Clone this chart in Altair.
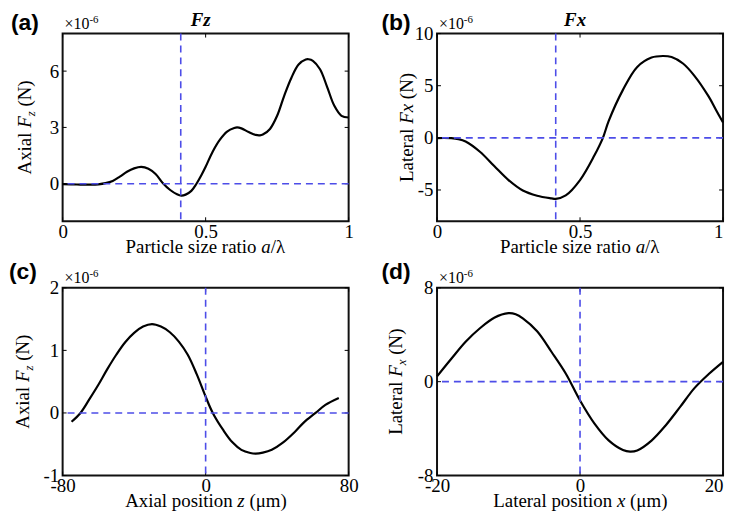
import altair as alt
import pandas as pd

# ---------------- data ----------------
a_x = [0, 0.05, 0.1, 0.125, 0.15, 0.175, 0.2, 0.225, 0.25, 0.275,
       0.3, 0.325, 0.35, 0.375, 0.4, 0.415, 0.43, 0.45, 0.468, 0.485,
       0.5, 0.525, 0.55, 0.575, 0.6, 0.61, 0.625, 0.65, 0.675, 0.69,
       0.7, 0.725, 0.75, 0.775, 0.8, 0.825, 0.85, 0.86, 0.875, 0.9,
       0.925, 0.95, 0.975, 1.0]
a_y = [-0.02, -0.04, -0.05, -0.03, 0.03, 0.15, 0.38, 0.64, 0.82, 0.90,
       0.80, 0.52, 0.04, -0.32, -0.56, -0.63, -0.58, -0.38, 0.0, 0.45,
       0.9, 1.72, 2.35, 2.78, 2.97, 3.0, 2.95, 2.76, 2.6, 2.58,
       2.62, 2.92, 3.62, 4.7, 5.65, 6.35, 6.62, 6.63, 6.55, 6.1,
       5.15, 4.15, 3.62, 3.53]

b_x = [0, 0.05, 0.075, 0.1, 0.15, 0.2, 0.25, 0.3, 0.35, 0.4,
       0.415, 0.45, 0.5, 0.55, 0.58, 0.6, 0.65, 0.7, 0.75, 0.79,
       0.82, 0.86, 0.9, 0.95, 0.975, 1.0]
b_y = [-0.02, -0.03, -0.12, -0.35, -1.33, -2.7, -4.05, -5.05, -5.55, -5.8,
       -5.85, -5.52, -4.05, -1.7, 0.0, 1.6, 4.6, 6.8, 7.7, 7.85,
       7.75, 7.13, 5.95, 3.95, 2.7, 1.47]

c_x = [-75, -70, -65, -60, -55, -50, -45, -40, -35, -30,
       -25, -20, -15, -10, -5, 0, 4, 10, 15, 20,
       25, 28, 32, 37, 43, 50, 55, 61.5, 67, 74.5]
c_y = [-0.14, 0.0, 0.22, 0.45, 0.70, 0.93, 1.13, 1.28, 1.38, 1.42,
       1.38, 1.29, 1.14, 0.93, 0.62, 0.26, 0.0, -0.28, -0.47, -0.59,
       -0.64, -0.65, -0.635, -0.59, -0.48, -0.3, -0.15, 0.0, 0.13, 0.24]

d_x = [-20, -18, -16, -14, -12, -10, -9, -8, -6, -4,
       -2, 0, 2, 4, 6, 7, 8, 10, 12, 14,
       16, 18, 20]
d_y = [0.45, 1.95, 3.4, 4.55, 5.45, 5.84, 5.75, 5.4, 4.3, 2.55,
       0.7, -1.6, -3.55, -5.0, -5.82, -5.96, -5.86, -5.02, -3.71, -2.15,
       -0.55, 0.65, 1.69]

a_xticks = [0, 0.5, 1]
a_yticks = [0, 3, 6]
b_xticks = [0, 0.5, 1]
b_yticks = [-5, 0, 5, 10]
c_xticks = [-80, 0, 80]
c_yticks = [-1, 0, 1, 2]
d_xticks = [-20, 0, 20]
d_yticks = [-8, 0, 8]

a_vline = 0.413
b_vline = 0.415
c_vline = 0
d_vline = 0

# ---------------- styling ----------------
SERIF = "Liberation Serif"
SANS = "Liberation Sans"
FS = 19
SUB = 13
W, H = 288, 189
BLUE = "#4d4de8"

ROMAN = {' ': 250, '(': 333, ')': 333, '/': 278, '.': 250,
         'A': 722, 'L': 611, 'N': 722, 'P': 556,
         'a': 444, 'c': 444, 'e': 444, 'i': 278, 'l': 278, 'n': 500,
         'o': 500, 'p': 500, 'r': 333, 's': 389, 't': 278, 'x': 500,
         'z': 444, 'm': 778, 'μ': 500, 'λ': 520, '×': 564, '0': 500, '1': 500}
ITAL = {'F': 611, 'a': 500, 'x': 444, 'z': 389}


def width(s, italic, size):
    tbl = ITAL if italic else ROMAN
    return sum(tbl.get(ch, 500) for ch in s) / 1000.0 * size


one = pd.DataFrame({"k": [0]})


def txt(s, x, y, size, italic=False, bold=False, font=SERIF, angle=0,
        align="left", dx=0, dy=0):
    kw = dict(text=s, font=font, fontSize=size, align=align,
              baseline="alphabetic", color="black")
    if italic:
        kw["fontStyle"] = "italic"
    if bold:
        kw["fontWeight"] = "bold"
    if angle:
        kw["angle"] = angle
    if dx:
        kw["dx"] = dx
    if dy:
        kw["dy"] = dy
    return alt.Chart(one).mark_text(**kw).encode(x=alt.value(x), y=alt.value(y))


def xtitle(pieces, baseline_y):
    total = sum(width(p, it, sz) for p, it, sz, sh in pieces)
    x0 = W / 2 - total / 2
    out = []
    off = 0
    for p, it, sz, sh in pieces:
        if p.strip():
            out.append(txt(p, x0 + off, baseline_y + sh, sz, italic=it))
        off += width(p, it, sz)
    return out


def ytitle(pieces, xb, yc):
    total = sum(width(p, it, sz) for p, it, sz, sh in pieces)
    y0 = yc + total / 2
    out = []
    off = 0
    for p, it, sz, sh in pieces:
        if p.strip():
            out.append(txt(p, xb, y0, sz, italic=it, angle=270, dx=off, dy=sh))
        off += width(p, it, sz)
    return out


def panel(xs, ys, xdom, ydom, xticks, yticks, vline, letter, letter_x, letter_y,
          title, ypieces, ytitle_x, xpieces, right_col):
    xsc = alt.Scale(domain=xdom, nice=False, zero=False)
    ysc = alt.Scale(domain=ydom, nice=False, zero=False)
    df = pd.DataFrame({"x": xs, "y": ys})
    common = dict(title=None, grid=False, ticks=False, domain=False,
                  labelFont=SERIF, labelFontSize=FS, labelColor="black",
                  labelFlush=False, labelOverlap=False,
                  labelExpr="'' + datum.value")
    xaxis_kw = dict(values=xticks, labelPadding=1, **common)
    if right_col:
        xaxis_kw["labelAlign"] = alt.condition(
            f"datum.value >= {xticks[-1]}", alt.value("right"), alt.value("center"))
    line = alt.Chart(df).mark_line(color="black", strokeWidth=2.2,
                                   interpolate="catmull-rom").encode(
        x=alt.X("x:Q", scale=xsc, axis=alt.Axis(**xaxis_kw)),
        y=alt.Y("y:Q", scale=ysc, axis=alt.Axis(values=yticks, labelPadding=4, **common)),
    )
    xt = pd.DataFrame({"x": xticks})
    yt = pd.DataFrame({"y": yticks})
    tick_kw = dict(color="black", strokeWidth=1)
    t_left = alt.Chart(yt).mark_rule(**tick_kw).encode(
        y=alt.Y("y:Q", scale=ysc), x=alt.value(0), x2=alt.value(4))
    t_right = alt.Chart(yt).mark_rule(**tick_kw).encode(
        y=alt.Y("y:Q", scale=ysc), x=alt.value(W - 4), x2=alt.value(W))
    t_bot = alt.Chart(xt).mark_rule(**tick_kw).encode(
        x=alt.X("x:Q", scale=xsc), y=alt.value(H - 4), y2=alt.value(H))
    t_top = alt.Chart(xt).mark_rule(**tick_kw).encode(
        x=alt.X("x:Q", scale=xsc), y=alt.value(0), y2=alt.value(4))
    dash_kw = dict(color=BLUE, strokeDash=[7, 5], strokeWidth=1.6)
    hl = alt.Chart(pd.DataFrame({"y": [0]})).mark_rule(**dash_kw).encode(
        y=alt.Y("y:Q", scale=ysc))
    vl = alt.Chart(pd.DataFrame({"x": [vline]})).mark_rule(**dash_kw).encode(
        x=alt.X("x:Q", scale=xsc))

    texts = [
        txt(letter, letter_x, letter_y, 23, bold=True, font=SANS),
        txt("×10", 2, -5, 16),
        txt("-6", 2 + width("×10", False, 16), -11, 11),
    ]
    if title:
        texts.append(txt(title, 139, -8, 19, bold=True, italic=True, align="center"))
    texts += ytitle(ypieces, ytitle_x, H / 2)
    texts += xtitle(xpieces, H + 32)
    return alt.layer(line, t_left, t_right, t_bot, t_top, hl, vl, *texts).properties(
        width=W, height=H)


R, I = False, True
y_axial = [("Axial", R, FS, 0), (" ", R, FS, 0), ("F", I, FS, 0), ("z", I, SUB, 4),
           (" ", R, FS, 0), ("(N)", R, FS, 0)]
y_latFx = [("Lateral", R, FS, 0), (" ", R, FS, 0), ("Fx", I, FS, 0),
           (" ", R, FS, 0), ("(N)", R, FS, 0)]
y_latFsub = [("Lateral", R, FS, 0), (" ", R, FS, 0), ("F", I, FS, 0), ("x", I, SUB, 4),
             (" ", R, FS, 0), ("(N)", R, FS, 0)]
x_ratio = [("Particle size ratio", R, FS, 0), (" ", R, FS, 0), ("a", I, FS, 0),
           ("/λ", R, FS, 0)]
x_axial = [("Axial position", R, FS, 0), (" ", R, FS, 0), ("z", I, FS, 0),
           (" ", R, FS, 0), ("(μm)", R, FS, 0)]
x_lat = [("Lateral position", R, FS, 0), (" ", R, FS, 0), ("x", I, FS, 0),
         (" ", R, FS, 0), ("(μm)", R, FS, 0)]

pa = panel(a_x, a_y, [0, 1], [-2, 8], a_xticks, a_yticks, a_vline, "(a)", -52, -3.5,
           "Fz", y_axial, -32, x_ratio, False)
pb = panel(b_x, b_y, [0, 1], [-8, 10], b_xticks, b_yticks, b_vline, "(b)", -56, -3.5,
           "Fx", y_latFx, -24, x_ratio, True)
pc = panel(c_x, c_y, [-80, 80], [-1, 2], c_xticks, c_yticks, c_vline, "(c)", -54, -9,
           None, y_axial, -34, x_axial, False)
pd_ = panel(d_x, d_y, [-20, 20], [-8, 8], d_xticks, d_yticks, d_vline, "(d)", -56, -9,
            None, y_latFsub, -35, x_lat, True)

chart = alt.concat(pa, pb, pc, pd_, columns=2,
                   spacing={"row": 67, "column": 89}, bounds="flush").properties(
    padding={"left": 0, "top": 0, "right": 0, "bottom": 0}
).configure_view(stroke="#111111", strokeWidth=2)

chart.save("out.html", embed_options={"renderer": "svg", "actions": False})
